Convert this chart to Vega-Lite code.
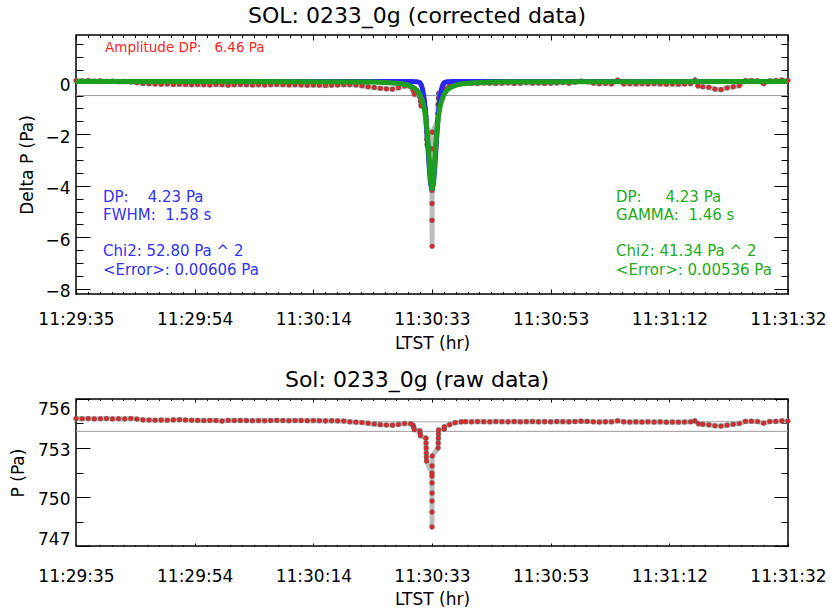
{
  "$schema": "https://vega.github.io/schema/vega-lite/v6.json",
  "padding": {"left": 8, "top": 3, "right": 0, "bottom": 0},
  "config": {
    "font": "DejaVu Sans",
    "view": {"stroke": "black", "strokeWidth": 1.5},
    "axis": {"labelFont": "DejaVu Sans", "labelFontSize": 17, "labelColor": "black", "titleFont": "DejaVu Sans", "titleFontSize": 17, "titleFontWeight": "normal", "titleColor": "black", "tickColor": "black", "tickWidth": 1, "domain": false, "grid": false, "labelFlush": false, "labelOverlap": false},
    "title": {"font": "DejaVu Sans", "fontSize": 22, "fontWeight": "normal", "color": "black"}
  },
  "bounds": "flush",
  "spacing": 105,
  "datasets": {
    "toplevel": [{"v": -0.5}],
    "botlevel": [{"p": 754.02}],
    "top": [
      {"t":0,"v":0.08},{"t":1,"v":0.07},{"t":2,"v":0.08},{"t":3,"v":0.06},{"t":4,"v":0.07},{"t":5,"v":0.05},{"t":6,"v":0.06},{"t":7,"v":0.04},{"t":8,"v":0.05},{"t":9,"v":0.03},
      {"t":10,"v":0.0},{"t":11,"v":-0.03},{"t":12,"v":-0.04},{"t":13,"v":-0.05},{"t":14,"v":-0.06},{"t":15,"v":-0.05},{"t":16,"v":-0.07},{"t":17,"v":-0.06},{"t":18,"v":-0.07},{"t":19,"v":-0.08},
      {"t":20,"v":-0.07},{"t":21,"v":-0.08},{"t":22,"v":-0.09},{"t":23,"v":-0.07},{"t":24,"v":-0.08},{"t":25,"v":-0.1},{"t":26,"v":-0.08},{"t":27,"v":-0.07},{"t":28,"v":-0.08},{"t":29,"v":-0.09},
      {"t":30,"v":-0.08},{"t":31,"v":-0.09},{"t":32,"v":-0.08},{"t":33,"v":-0.07},{"t":34,"v":-0.08},{"t":35,"v":-0.09},{"t":36,"v":-0.08},{"t":37,"v":-0.09},{"t":38,"v":-0.1},{"t":39,"v":-0.09},
      {"t":40,"v":-0.1},{"t":41,"v":-0.11},{"t":42,"v":-0.1},{"t":43,"v":-0.09},{"t":44,"v":-0.08},{"t":45,"v":-0.08},{"t":46,"v":-0.09},{"t":47,"v":-0.12},{"t":48,"v":-0.16},{"t":49,"v":-0.19},
      {"t":50,"v":-0.22},{"t":51,"v":-0.24},{"t":52,"v":-0.25},{"t":53,"v":-0.2},{"t":54,"v":-0.13},{"t":55,"v":-0.16},
      {"t":55.4,"v":-0.3},{"t":55.6,"v":-0.45},{"t":56.5,"v":-0.55},{"t":56.6,"v":-0.72},{"t":56.7,"v":-0.9},
      {"t":57.4,"v":-1.0},{"t":57.5,"v":-1.3},{"t":57.55,"v":-1.6},{"t":57.6,"v":-1.9},{"t":57.65,"v":-2.2},{"t":57.7,"v":-2.4},
      {"t":58.45,"v":-2.57},{"t":58.48,"v":-3.1},{"t":58.5,"v":-3.7},{"t":58.5,"v":-4.18},{"t":58.5,"v":-4.69},{"t":58.5,"v":-5.34},{"t":58.52,"v":-6.35},{"t":58.55,"v":-1.92},
      {"t":59.4,"v":-1.5},{"t":59.45,"v":-1.2},{"t":59.5,"v":-0.85},{"t":59.55,"v":-0.6},{"t":59.6,"v":-0.42},{"t":60.5,"v":-0.3},{"t":60.55,"v":-0.2},{"t":61.4,"v":-0.12},{"t":62.3,"v":-0.05},
      {"t":63.3,"v":-0.02},{"t":64,"v":-0.03},{"t":65,"v":-0.02},{"t":66,"v":-0.03},{"t":67,"v":-0.01},{"t":68,"v":-0.02},{"t":69,"v":-0.03},
      {"t":70,"v":-0.02},{"t":71,"v":-0.01},{"t":72,"v":-0.03},{"t":73,"v":-0.02},{"t":74,"v":0.0},{"t":75,"v":-0.02},{"t":76,"v":-0.01},{"t":77,"v":-0.03},{"t":78,"v":-0.02},{"t":79,"v":-0.01},
      {"t":80,"v":0.01},{"t":81,"v":-0.02},{"t":82,"v":0.02},{"t":83,"v":0.06},{"t":84,"v":0.04},{"t":85,"v":-0.02},{"t":86,"v":-0.04},{"t":87,"v":-0.03},{"t":88,"v":-0.05},{"t":89,"v":0.1},
      {"t":90,"v":-0.05},{"t":91,"v":-0.04},{"t":92,"v":-0.05},{"t":93,"v":-0.04},{"t":94,"v":-0.05},{"t":95,"v":-0.04},{"t":96,"v":-0.05},{"t":97,"v":-0.06},{"t":98,"v":-0.05},{"t":99,"v":-0.06},
      {"t":100,"v":-0.05},{"t":101,"v":-0.04},{"t":101.7,"v":0.1},{"t":102.2,"v":-0.13},{"t":103,"v":-0.16},{"t":104,"v":-0.18},{"t":105,"v":-0.25},{"t":106,"v":-0.27},{"t":107,"v":-0.2},{"t":108,"v":-0.16},{"t":109,"v":-0.12},
      {"t":110,"v":0.08},{"t":111,"v":0.08},{"t":112,"v":0.07},{"t":113,"v":-0.04},{"t":114,"v":0.07},{"t":115,"v":0.08},{"t":116,"v":0.1},{"t":117,"v":0.09}
    ],
    "bot": [
      {"t":0,"p":754.8},{"t":1,"p":754.79},{"t":2,"p":754.8},{"t":3,"p":754.78},{"t":4,"p":754.79},{"t":5,"p":754.8},{"t":6,"p":754.78},{"t":7,"p":754.79},{"t":8,"p":754.78},{"t":9,"p":754.8},
      {"t":10,"p":754.77},{"t":11,"p":754.72},{"t":12,"p":754.71},{"t":13,"p":754.7},{"t":14,"p":754.71},{"t":15,"p":754.7},{"t":16,"p":754.72},{"t":17,"p":754.73},{"t":18,"p":754.71},{"t":19,"p":754.7},
      {"t":20,"p":754.69},{"t":21,"p":754.68},{"t":22,"p":754.69},{"t":23,"p":754.68},{"t":24,"p":754.65},{"t":25,"p":754.69},{"t":26,"p":754.68},{"t":27,"p":754.69},{"t":28,"p":754.68},{"t":29,"p":754.67},
      {"t":30,"p":754.68},{"t":31,"p":754.67},{"t":32,"p":754.68},{"t":33,"p":754.69},{"t":34,"p":754.68},{"t":35,"p":754.67},{"t":36,"p":754.68},{"t":37,"p":754.68},{"t":38,"p":754.67},{"t":39,"p":754.68},
      {"t":40,"p":754.67},{"t":41,"p":754.66},{"t":42,"p":754.67},{"t":43,"p":754.66},{"t":44,"p":754.65},{"t":45,"p":754.6},{"t":46,"p":754.58},{"t":47,"p":754.56},{"t":48,"p":754.52},{"t":49,"p":754.47},
      {"t":50,"p":754.43},{"t":51,"p":754.41},{"t":52,"p":754.4},{"t":53,"p":754.44},{"t":54,"p":754.5},{"t":55,"p":754.48},
      {"t":55.4,"p":754.39},{"t":55.5,"p":754.25},{"t":55.6,"p":754.12},{"t":56.5,"p":754.05},{"t":56.55,"p":753.9},{"t":56.6,"p":753.75},
      {"t":57.5,"p":753.6},{"t":57.52,"p":753.3},{"t":57.54,"p":753.0},{"t":57.56,"p":752.7},{"t":57.58,"p":752.45},{"t":57.6,"p":752.2},
      {"t":58.5,"p":751.47},{"t":58.5,"p":751.28},{"t":58.5,"p":750.86},{"t":58.5,"p":750.24},{"t":58.5,"p":749.75},{"t":58.5,"p":749.08},{"t":58.5,"p":748.16},{"t":58.52,"p":751.9},{"t":58.54,"p":752.51},
      {"t":59.5,"p":753.0},{"t":59.52,"p":753.3},{"t":59.54,"p":753.6},{"t":59.56,"p":753.85},{"t":59.58,"p":754.1},{"t":60.5,"p":754.15},{"t":60.52,"p":754.3},{"t":61.4,"p":754.43},{"t":62.3,"p":754.55},
      {"t":63.3,"p":754.6},{"t":64,"p":754.61},{"t":65,"p":754.6},{"t":66,"p":754.62},{"t":67,"p":754.61},{"t":68,"p":754.6},{"t":69,"p":754.62},
      {"t":70,"p":754.61},{"t":71,"p":754.6},{"t":72,"p":754.62},{"t":73,"p":754.6},{"t":74,"p":754.61},{"t":75,"p":754.62},{"t":76,"p":754.6},{"t":77,"p":754.61},{"t":78,"p":754.6},{"t":79,"p":754.62},
      {"t":80,"p":754.61},{"t":81,"p":754.6},{"t":82,"p":754.62},{"t":83,"p":754.64},{"t":84,"p":754.63},{"t":85,"p":754.6},{"t":86,"p":754.59},{"t":87,"p":754.6},{"t":88,"p":754.6},{"t":89,"p":754.66},
      {"t":90,"p":754.6},{"t":91,"p":754.59},{"t":92,"p":754.6},{"t":93,"p":754.59},{"t":94,"p":754.6},{"t":95,"p":754.59},{"t":96,"p":754.6},{"t":97,"p":754.58},{"t":98,"p":754.59},{"t":99,"p":754.58},
      {"t":100,"p":754.59},{"t":101,"p":754.6},{"t":101.7,"p":754.66},{"t":102.3,"p":754.48},{"t":103,"p":754.45},{"t":104,"p":754.42},{"t":105,"p":754.36},{"t":106,"p":754.34},{"t":107,"p":754.4},{"t":108,"p":754.45},{"t":109,"p":754.5},
      {"t":110,"p":754.63},{"t":111,"p":754.64},{"t":112,"p":754.62},{"t":113,"p":754.52},{"t":114,"p":754.62},{"t":115,"p":754.63},{"t":116,"p":754.66},{"t":117,"p":754.65}
    ],
    "botbase": [
      {"t":0,"p":754.78},{"t":10,"p":754.75},{"t":20,"p":754.69},{"t":45,"p":754.63},{"t":58.5,"p":754.6},{"t":80,"p":754.6},{"t":117,"p":754.62}
    ],
    "blue": [
      {"t":0,"v":0.05},{"t":55,"v":0.05},{"t":56,"v":0.04},{"t":56.5,"v":0.0},{"t":56.75,"v":-0.09},{"t":57,"v":-0.3},{"t":57.25,"v":-0.69},{"t":57.5,"v":-1.34},{"t":57.75,"v":-2.21},{"t":58,"v":-3.15},{"t":58.25,"v":-3.9},{"t":58.5,"v":-4.18},
      {"t":58.75,"v":-3.9},{"t":59,"v":-3.15},{"t":59.25,"v":-2.21},{"t":59.5,"v":-1.34},{"t":59.75,"v":-0.69},{"t":60,"v":-0.3},{"t":60.25,"v":-0.09},{"t":60.5,"v":0.0},{"t":61,"v":0.04},{"t":62,"v":0.05},{"t":117,"v":0.05}
    ],
    "green": [
      {"t":0,"v":0.045},{"t":38.5,"v":0.04},{"t":48.5,"v":0.03},{"t":51.5,"v":0.0},{"t":53.5,"v":-0.04},{"t":54.5,"v":-0.09},{"t":55.5,"v":-0.19},{"t":56,"v":-0.28},{"t":56.5,"v":-0.45},{"t":56.9,"v":-0.68},{"t":57.2,"v":-0.96},{"t":57.5,"v":-1.42},{"t":57.7,"v":-1.87},{"t":57.9,"v":-2.47},{"t":58.1,"v":-3.2},{"t":58.3,"v":-3.88},{"t":58.5,"v":-4.18},
      {"t":58.7,"v":-3.88},{"t":58.9,"v":-3.2},{"t":59.1,"v":-2.47},{"t":59.3,"v":-1.87},{"t":59.5,"v":-1.42},{"t":59.8,"v":-0.96},{"t":60.1,"v":-0.68},{"t":60.5,"v":-0.45},{"t":61,"v":-0.28},{"t":61.5,"v":-0.19},{"t":62.5,"v":-0.09},{"t":63.5,"v":-0.04},{"t":65.5,"v":0.0},{"t":68.5,"v":0.03},{"t":78.5,"v":0.04},{"t":117,"v":0.045}
    ],
    "notes": [
      {"t":4.77,"v":1.33,"text":"Amplitude DP:\u00a0\u00a0 6.46 Pa","fit":"amp"},
      {"t":4.44,"v":-4.45,"text":"DP:\u00a0\u00a0\u00a0 4.23 Pa","fit":"gauss"},
      {"t":4.44,"v":-5.15,"text":"FWHM:\u00a0 1.58 s","fit":"gauss"},
      {"t":4.44,"v":-6.55,"text":"Chi2: 52.80 Pa ^ 2","fit":"gauss"},
      {"t":4.44,"v":-7.25,"text":"<Error>: 0.00606 Pa","fit":"gauss"},
      {"t":88.74,"v":-4.45,"text":"DP:\u00a0\u00a0\u00a0\u00a0 4.23 Pa","fit":"lorentz"},
      {"t":88.74,"v":-5.15,"text":"GAMMA:\u00a0 1.46 s","fit":"lorentz"},
      {"t":88.74,"v":-6.55,"text":"Chi2: 41.34 Pa ^ 2","fit":"lorentz"},
      {"t":88.74,"v":-7.25,"text":"<Error>: 0.00536 Pa","fit":"lorentz"}
    ]
  },
  "vconcat": [
    {
      "title": {"text": "SOL: 0233_0g (corrected data)", "offset": 7, "dx": -15},
      "width": 712,
      "height": 259,
      "resolve": {"axis": {"x": "independent", "y": "independent"}},
      "layer": [
        {
          "data": {"name": "toplevel"},
          "mark": {"type": "rule", "color": "#999999", "strokeWidth": 1},
          "encoding": {"y": {"field": "v", "type": "quantitative", "scale": {"domain": [-8.2, 1.85], "nice": false, "zero": false}, "axis": null}}
        },
        {
          "data": {"name": "top"},
          "mark": {"type": "line", "color": "#bdbdbd", "strokeWidth": 5},
          "encoding": {
            "x": {"field": "t", "type": "quantitative", "scale": {"domain": [0, 117], "nice": false, "zero": false},
                  "axis": {"orient": "bottom", "values": [0, 19.5, 39, 58.5, 78, 97.5, 117], "labelExpr": "['11:29:35','11:29:54','11:30:14','11:30:33','11:30:53','11:31:12','11:31:32'][round(datum.value/19.5)]", "tickSize": -5, "labelPadding": 22, "title": "LTST (hr)", "titlePadding": 8}},
            "y": {"field": "v", "type": "quantitative", "scale": {"domain": [-8.2, 1.85], "nice": false, "zero": false},
                  "axis": {"orient": "left", "values": [-8, -6, -4, -2, 0], "tickSize": -14, "labelPadding": 20, "labelOffset": 3, "title": "Delta P  (Pa)", "titlePadding": 8}},
            "order": {"value": null}
          }
        },
        {
          "data": {"name": "top"},
          "mark": {"type": "point", "shape": "circle", "filled": true, "size": 22, "fill": "#ee2222", "stroke": "#555555", "strokeWidth": 0.6, "opacity": 1},
          "encoding": {
            "x": {"field": "t", "type": "quantitative", "scale": {"domain": [0, 117], "nice": false, "zero": false},
                  "axis": {"orient": "bottom", "values": [0,1.95,3.9,5.85,7.8,9.75,11.7,13.65,15.6,17.55,19.5,21.45,23.4,25.35,27.3,29.25,31.2,33.15,35.1,37.05,39,40.95,42.9,44.85,46.8,48.75,50.7,52.65,54.6,56.55,58.5,60.45,62.4,64.35,66.3,68.25,70.2,72.15,74.1,76.05,78,79.95,81.9,83.85,85.8,87.75,89.7,91.65,93.6,95.55,97.5,99.45,101.4,103.35,105.3,107.25,109.2,111.15,113.1,115.05,117], "tickSize": -2.6, "labels": false, "title": null}},
            "y": {"field": "v", "type": "quantitative", "scale": {"domain": [-8.2, 1.85], "nice": false, "zero": false},
                  "axis": {"orient": "left", "values": [-8,-7.5,-7,-6.5,-6,-5.5,-5,-4.5,-4,-3.5,-3,-2.5,-2,-1.5,-1,-0.5,0,0.5,1,1.5], "tickSize": -7, "labels": false, "title": null}}
          }
        },
        {
          "data": {"name": "blue"},
          "mark": {"type": "line", "color": "#2828f5", "strokeWidth": 5},
          "encoding": {
            "x": {"field": "t", "type": "quantitative", "scale": {"domain": [0, 117], "nice": false, "zero": false},
                  "axis": {"orient": "top", "values": [0,1.95,3.9,5.85,7.8,9.75,11.7,13.65,15.6,17.55,19.5,21.45,23.4,25.35,27.3,29.25,31.2,33.15,35.1,37.05,39,40.95,42.9,44.85,46.8,48.75,50.7,52.65,54.6,56.55,58.5,60.45,62.4,64.35,66.3,68.25,70.2,72.15,74.1,76.05,78,79.95,81.9,83.85,85.8,87.75,89.7,91.65,93.6,95.55,97.5,99.45,101.4,103.35,105.3,107.25,109.2,111.15,113.1,115.05,117],
                           "tickSize": {"condition": {"test": "abs(datum.value/19.5 - round(datum.value/19.5)) < 0.01", "value": -5}, "value": -2.6}, "labels": false, "title": null}},
            "y": {"field": "v", "type": "quantitative", "scale": {"domain": [-8.2, 1.85], "nice": false, "zero": false},
                  "axis": {"orient": "right", "values": [-8,-7.5,-7,-6.5,-6,-5.5,-5,-4.5,-4,-3.5,-3,-2.5,-2,-1.5,-1,-0.5,0,0.5,1,1.5],
                           "tickSize": {"condition": {"test": "datum.value % 2 === 0", "value": -14}, "value": -7}, "labels": false, "title": null}}
          }
        },
        {
          "data": {"name": "green"},
          "mark": {"type": "line", "color": "#1e9e1e", "strokeWidth": 5},
          "encoding": {
            "x": {"field": "t", "type": "quantitative", "scale": {"domain": [0, 117], "nice": false, "zero": false}, "axis": null},
            "y": {"field": "v", "type": "quantitative", "scale": {"domain": [-8.2, 1.85], "nice": false, "zero": false}, "axis": null}
          }
        },
        {
          "data": {"name": "notes"},
          "transform": [{"filter": "datum.fit === 'amp'"}],
          "mark": {"type": "text", "align": "left", "baseline": "middle", "font": "DejaVu Sans", "fontSize": 13.5, "color": "#f22a2a"},
          "encoding": {
            "x": {"field": "t", "type": "quantitative", "scale": {"domain": [0, 117], "nice": false, "zero": false}, "axis": null},
            "y": {"field": "v", "type": "quantitative", "scale": {"domain": [-8.2, 1.85], "nice": false, "zero": false}, "axis": null},
            "text": {"field": "text"}
          }
        },
        {
          "data": {"name": "notes"},
          "transform": [{"filter": "datum.fit !== 'amp'"}],
          "mark": {"type": "text", "align": "left", "baseline": "middle", "font": "DejaVu Sans", "fontSize": 15},
          "encoding": {
            "x": {"field": "t", "type": "quantitative", "scale": {"domain": [0, 117], "nice": false, "zero": false}, "axis": null},
            "y": {"field": "v", "type": "quantitative", "scale": {"domain": [-8.2, 1.85], "nice": false, "zero": false}, "axis": null},
            "text": {"field": "text"},
            "color": {"field": "fit", "type": "nominal", "scale": {"domain": ["gauss", "lorentz"], "range": ["#3333ee", "#22aa22"]}, "legend": null}
          }
        }
      ]
    },
    {
      "title": {"text": "Sol: 0233_0g (raw data)", "offset": 7, "dx": -15},
      "width": 712,
      "height": 147,
      "resolve": {"axis": {"x": "independent", "y": "independent"}},
      "layer": [
        {
          "data": {"name": "botlevel"},
          "mark": {"type": "rule", "color": "#999999", "strokeWidth": 1},
          "encoding": {"y": {"field": "p", "type": "quantitative", "scale": {"domain": [747, 756], "nice": false, "zero": false}, "axis": null}}
        },
        {
          "data": {"name": "botbase"},
          "mark": {"type": "line", "color": "#aaaaaa", "strokeWidth": 1},
          "encoding": {
            "x": {"field": "t", "type": "quantitative", "scale": {"domain": [0, 117], "nice": false, "zero": false},
                  "axis": {"orient": "top", "values": [0,1.95,3.9,5.85,7.8,9.75,11.7,13.65,15.6,17.55,19.5,21.45,23.4,25.35,27.3,29.25,31.2,33.15,35.1,37.05,39,40.95,42.9,44.85,46.8,48.75,50.7,52.65,54.6,56.55,58.5,60.45,62.4,64.35,66.3,68.25,70.2,72.15,74.1,76.05,78,79.95,81.9,83.85,85.8,87.75,89.7,91.65,93.6,95.55,97.5,99.45,101.4,103.35,105.3,107.25,109.2,111.15,113.1,115.05,117],
                           "tickSize": {"condition": {"test": "abs(datum.value/19.5 - round(datum.value/19.5)) < 0.01", "value": -3}, "value": -1.5}, "labels": false, "title": null}},
            "y": {"field": "p", "type": "quantitative", "scale": {"domain": [747, 756], "nice": false, "zero": false},
                  "axis": {"orient": "right", "values": [747, 748.5, 750, 751.5, 753, 754.5, 756],
                           "tickSize": {"condition": {"test": "datum.value % 3 === 0", "value": -14}, "value": -7}, "labels": false, "title": null}}
          }
        },
        {
          "data": {"name": "bot"},
          "mark": {"type": "line", "color": "#bdbdbd", "strokeWidth": 5},
          "encoding": {
            "x": {"field": "t", "type": "quantitative", "scale": {"domain": [0, 117], "nice": false, "zero": false},
                  "axis": {"orient": "bottom", "values": [0, 19.5, 39, 58.5, 78, 97.5, 117], "labelExpr": "['11:29:35','11:29:54','11:30:14','11:30:33','11:30:53','11:31:12','11:31:32'][round(datum.value/19.5)]", "tickSize": -3, "labelPadding": 25, "title": "LTST (hr)", "titlePadding": 7}},
            "y": {"field": "p", "type": "quantitative", "scale": {"domain": [747, 756], "nice": false, "zero": false},
                  "axis": {"orient": "left", "values": [747, 750, 753, 756], "tickSize": -14, "labelPadding": 20, "labelOffset": 2, "labelFlush": true, "title": "P (Pa)", "titlePadding": 10}},
            "order": {"value": null}
          }
        },
        {
          "data": {"name": "bot"},
          "mark": {"type": "point", "shape": "circle", "filled": true, "size": 22, "fill": "#ee2222", "stroke": "#555555", "strokeWidth": 0.6, "opacity": 1},
          "encoding": {
            "x": {"field": "t", "type": "quantitative", "scale": {"domain": [0, 117], "nice": false, "zero": false},
                  "axis": {"orient": "bottom", "values": [0,1.95,3.9,5.85,7.8,9.75,11.7,13.65,15.6,17.55,19.5,21.45,23.4,25.35,27.3,29.25,31.2,33.15,35.1,37.05,39,40.95,42.9,44.85,46.8,48.75,50.7,52.65,54.6,56.55,58.5,60.45,62.4,64.35,66.3,68.25,70.2,72.15,74.1,76.05,78,79.95,81.9,83.85,85.8,87.75,89.7,91.65,93.6,95.55,97.5,99.45,101.4,103.35,105.3,107.25,109.2,111.15,113.1,115.05,117], "tickSize": -1.5, "labels": false, "title": null}},
            "y": {"field": "p", "type": "quantitative", "scale": {"domain": [747, 756], "nice": false, "zero": false},
                  "axis": {"orient": "left", "values": [748.5, 751.5, 754.5], "tickSize": -7, "labels": false, "title": null}}
          }
        }
      ]
    }
  ]
}
